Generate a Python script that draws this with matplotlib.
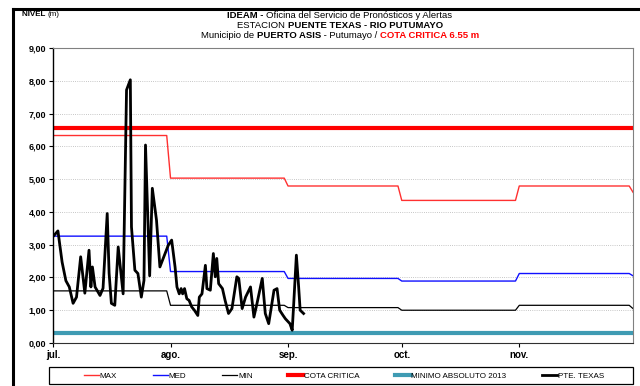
import matplotlib
matplotlib.use("Agg")
import matplotlib.pyplot as plt
from matplotlib.lines import Line2D
from matplotlib.patches import Rectangle
from matplotlib import font_manager

# ── datos ─────────────────────────────────────────────────────────────────────
# inicio de cada mes (dias desde 1-jul) y valores mensuales de referencia
MES_DIA   = [0, 31, 62, 92, 123, 153]
MES_LABEL = ["jul.", "ago.", "sep.", "oct.", "nov."]
NIVEL_MAX = [6.33, 5.03, 4.79, 4.35, 4.79, 4.60]
NIVEL_MED = [3.26, 2.18, 1.97, 1.89, 2.12, 2.05]
NIVEL_MIN = [1.59, 1.15, 1.08, 1.00, 1.15, 1.05]
COTA_CRITICA = 6.55
MINIMO_ABS_2013 = 0.32

# lecturas estacion Puente Texas (dia desde 1-jul, nivel m)
PTE_DIA = [0.1, 1.3, 2.4, 3.4, 4.3, 5.3, 6.2, 7.3, 8.4, 9.5, 10.0, 10.4, 11.1,
           12.4, 13.2, 14.3, 14.8, 15.4, 16.3, 17.2, 18.5, 19.4, 20.4, 20.7,
           21.6, 22.4, 23.3, 24.0, 24.4, 25.5, 26.2, 27.3, 28.2, 28.9, 30.4,
           31.3, 32.2, 32.7, 33.3, 33.8, 34.2, 34.7, 35.3, 35.9, 36.6, 37.3,
           38.2, 38.6, 39.3, 40.2, 40.6, 41.5, 42.3, 42.8, 43.2, 43.7, 44.7,
           45.4, 46.3, 47.2, 48.5, 49.0, 49.9, 50.8, 52.1, 53.0, 53.8, 55.2,
           56.0, 56.9, 58.3, 59.1, 59.8, 60.7, 61.3, 62.5, 63.1, 63.5, 64.2,
           64.8, 65.2, 66.1]
PTE_NIVEL = [3.26, 3.42, 2.47, 1.90, 1.71, 1.21, 1.40, 2.63, 1.52, 2.83, 1.71,
             2.32, 1.71, 1.45, 1.67, 3.95, 2.13, 1.21, 1.15, 2.93, 1.50, 7.72,
             8.03, 3.54, 2.22, 2.12, 1.40, 1.91, 6.04, 2.05, 4.72, 3.75, 2.32,
             2.53, 2.98, 3.14, 2.32, 1.71, 1.50, 1.66, 1.50, 1.66, 1.35, 1.30,
             1.10, 1.00, 0.84, 1.40, 1.50, 2.37, 1.66, 1.61, 2.73, 2.02, 2.58,
             1.81, 1.66, 1.30, 0.90, 1.05, 2.02, 1.97, 1.05, 1.40, 1.71, 0.79,
             1.20, 1.97, 0.90, 0.59, 1.61, 1.66, 1.00, 0.84, 0.74, 0.59, 0.39,
             1.20, 2.68, 1.71, 1.00, 0.90]


def escalones(valores):
    # valor constante en cada dia del mes, rampa de un dia al cambiar de mes
    xs, ys = [], []
    for i, v in enumerate(valores[:-1]):
        xs += [MES_DIA[i], MES_DIA[i + 1] - 1]
        ys += [v, v]
    xs.append(MES_DIA[-1])
    ys.append(valores[-1])
    return xs, ys


nombres = {f.name for f in font_manager.fontManager.ttflist}
FUENTE = "Liberation Sans Narrow" if "Liberation Sans Narrow" in nombres else "Liberation Sans"
plt.rcParams["font.family"] = [FUENTE, "DejaVu Sans"]

fig = plt.figure(figsize=(6.4, 3.86), dpi=100)
ax = fig.add_axes([53 / 640, 43 / 386, 580 / 640, 295 / 386])

ax.plot(*escalones(NIVEL_MAX), color="#ff3030", lw=1.0, label="MAX")
ax.plot(*escalones(NIVEL_MED), color="#1010ff", lw=1.0, label="MED")
ax.plot(*escalones(NIVEL_MIN), color="black", lw=0.9, label="MIN")
ax.axhline(COTA_CRITICA, color="#ff0000", lw=3.0, label="COTA CRITICA")
ax.axhline(MINIMO_ABS_2013, color="#3f9bb3", lw=3.0, label="MINIMO ABSOLUTO 2013")
ax.plot(PTE_DIA, PTE_NIVEL, color="black", lw=2.0, label="PTE. TEXAS")

ax.set_xlim(0, 153)
ax.set_ylim(0, 9)
ax.set_yticks(range(10))
ax.set_yticklabels([f"{v},00" for v in range(10)], fontsize=6.5, fontweight="bold")
ax.set_xticks(MES_DIA[:-1])
ax.set_xticklabels(MES_LABEL, fontsize=7, fontweight="bold")
ax.tick_params(axis="both", length=3, width=0.8, direction="out", pad=2)
for y in range(1, 9):
    ax.axhline(y, color="#b4b4b4", lw=0.6, ls=(0, (1, 1.6)), zorder=0)
for lado in ("top", "right"):
    ax.spines[lado].set_color("#808080")
    ax.spines[lado].set_linewidth(0.8)
ax.spines["left"].set_linewidth(1.0)
ax.spines["bottom"].set_color("#303030")

# ── textos con partes en negrita ─────────────────────────────────────────────
renderer = fig.canvas.get_renderer()


def linea_mixta(y, partes, x=0.531, size=6.8, centrar=True):
    textos = []
    for txt, peso, color in partes:
        textos.append(fig.text(0, y, txt, fontsize=size, fontweight=peso,
                               color=color, ha="left", va="center"))
    anchos = [t.get_window_extent(renderer).width / fig.bbox.width for t in textos]
    x0 = x - sum(anchos) / 2 if centrar else x
    for t, w in zip(textos, anchos):
        t.set_x(x0)
        x0 += w


linea_mixta(1 - 15 / 386, [("IDEAM - ", "bold", "black"),
                           ("Oficina del Servicio de Pronósticos y Alertas", "normal", "black")])
linea_mixta(1 - 25 / 386, [("ESTACION ", "normal", "black"),
                           ("PUENTE TEXAS - RIO PUTUMAYO", "bold", "black")])
linea_mixta(1 - 36 / 386, [("Municipio de ", "normal", "black"),
                           ("PUERTO ASIS", "bold", "black"),
                           (" - Putumayo / ", "normal", "black"),
                           ("COTA CRITICA 6.55 m", "bold", "#ff0000")])
linea_mixta(1 - 15 / 386, [("NIVEL ", "bold", "black"), ("(m)", "normal", "black")],
            x=22 / 640, size=5.8, centrar=False)

# marco exterior
fig.add_artist(Line2D([13 / 640, 13 / 640], [0, 1 - 9 / 386], color="black", lw=2.2))
fig.add_artist(Line2D([13 / 640, 1], [1 - 9 / 386, 1 - 9 / 386], color="black", lw=2.2))

# leyenda: cuadro fijo bajo el eje, entradas centradas dentro
fig.add_artist(Rectangle((49 / 640, 1 - 384 / 386), 584 / 640, 17 / 386,
                         transform=fig.transFigure, fill=False,
                         edgecolor="black", lw=0.9))
fig.legend(loc="center", bbox_to_anchor=(344 / 640, 1 - 376 / 386), ncol=6,
           fontsize=5.8, frameon=False, handlelength=1.9, handletextpad=0.1,
           columnspacing=4.4, borderpad=0.2)

fig.savefig("out.png", dpi=100)
